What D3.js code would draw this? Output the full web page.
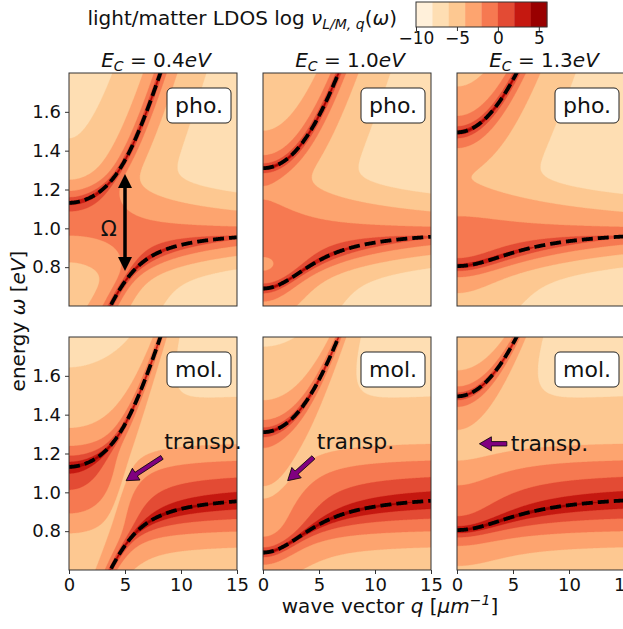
<!DOCTYPE html>
<html>
<head>
<meta charset="utf-8">
<script src="https://cdn.jsdelivr.net/npm/d3@7"></script>
<style>
  html, body { margin: 0; padding: 0; background: #fff; }
  svg { display: block; font-family: "DejaVu Sans", sans-serif; }
</style>
</head>
<body>
<svg id="fig" width="623" height="629"></svg>
<script>
// ---- model parameters ----------------------------------------------------
const cutoffEnergies = [0.4, 1.0, 1.3];        // cavity cut-off E_C per column (eV)
const rowKinds = ["pho.", "mol."];             // photonic / molecular LDOS rows
const moleculeEnergy = 1.0;                    // molecular excitation ω_M (eV)
const couplingG = 0.31;                        // light-matter coupling (eV), Ω = 2g
const photonVelocity = 0.2;                    // cavity dispersion slope (eV·µm)
const photonDamping = [0.0015];                // γ_C (eV)
const moleculeDamping = [0.02, 0.1, 0.0007];   // peak, gaussian width, floor of γ_M(ω)

// ---- axes, levels, annotations ------------------------------------------
const qDomain = [0, 15];
const omegaDomain = [0.6, 1.8];
const qTicks = [0, 5, 10, 15];
const omegaTicks = [0.8, 1.0, 1.2, 1.4, 1.6];
const contourLevels = [-10, -8, -6, -4, -2, 0, 2, 4, 6];
const colorbarTicks = [-10, -5, 0, 5];
const orRdStops = ["#fff7ec", "#fee8c8", "#fdd49e", "#fdbb84", "#fc8d59",
                   "#ef6548", "#d7301f", "#b30000", "#7f0000"];
// "transp." notes in the molecular row: text anchor, arrow tail, arrow tip (q, ω)
const transpText = [[8.5, 1.26], [4.8, 1.26], [4.8, 1.25]];
const transpTail = [[8.3, 1.18], [4.5, 1.18], [4.45, 1.25]];
const transpTip  = [[5.1, 1.06], [2.2, 1.06], [2.0, 1.25]];
// Rabi splitting arrow in the first photonic panel
const rabiArrowQ = 5.0, rabiArrowEnds = [0.78, 1.28], rabiLabelAt = [3.55, 1.0];

// ---- layout ---------------------------------------------------------------
const panelX = [69, 263, 457], panelW = 168;
const panelY = [73, 337], panelH = 233;

const svg = d3.select("#fig");
const levelColor = d3.scaleLinear()
  .domain(d3.range(orRdStops.length).map(i => i / (orRdStops.length - 1)))
  .range(orRdStops).interpolate(d3.interpolateRgb);
const nBands = contourLevels.length - 1;
const bandColors = d3.range(nBands).map(k => levelColor((k + 0.5) / nBands));

function cavityEnergy(Ec, q) { return Math.sqrt(Ec * Ec + (photonVelocity * q) ** 2); }
function moleculeWidth(w) {
  const d = w - moleculeEnergy;
  return moleculeDamping[0] * Math.exp(-d * d / (2 * moleculeDamping[1] ** 2)) + moleculeDamping[2];
}
// log LDOS from the 2x2 retarded Green's function of cavity mode + molecules
function logLdos(kind, Ec, q, w) {
  const ar = w - cavityEnergy(Ec, q), ai = photonDamping[0];
  const br = w - moleculeEnergy, bi = moleculeWidth(w);
  const Dr = ar * br - ai * bi - couplingG * couplingG, Di = ar * bi + ai * br;
  const nr = kind === 0 ? br : ar, ni = kind === 0 ? bi : ai;
  const im = (ni * Dr - nr * Di) / (Dr * Dr + Di * Di);
  return Math.log(Math.max(-im, 1e-12));
}
function polariton(Ec, q, sign) {
  const wc = cavityEnergy(Ec, q);
  const m = (wc + moleculeEnergy) / 2, h = (wc - moleculeEnergy) / 2;
  return m + sign * Math.sqrt(h * h + couplingG * couplingG);
}

const nx = 240, ny = 640;
const contourGen = d3.contours().size([nx, ny]).thresholds(contourLevels.slice(0, -1));
const qSamples = d3.range(0, 15.0001, 0.05);

const defs = svg.append("defs");

rowKinds.forEach((kindLabel, r) => {
  cutoffEnergies.forEach((Ec, c) => {
    const x0 = panelX[c], y0 = panelY[r];
    const xs = d3.scaleLinear().domain(qDomain).range([x0, x0 + panelW]);
    const ys = d3.scaleLinear().domain(omegaDomain).range([y0 + panelH, y0]);
    const clipId = `clip-${r}-${c}`;
    defs.append("clipPath").attr("id", clipId)
      .append("rect").attr("x", x0).attr("y", y0).attr("width", panelW).attr("height", panelH);
    const g = svg.append("g");
    const plot = g.append("g").attr("clip-path", `url(#${clipId})`);

    // sampled field
    const vals = new Float64Array(nx * ny);
    for (let j = 0; j < ny; j++) {
      const w = ys.invert(y0 + (j + 0.5) / ny * panelH);
      for (let i = 0; i < nx; i++) {
        const q = xs.invert(x0 + (i + 0.5) / nx * panelW);
        vals[j * nx + i] = Math.max(-9.999, Math.min(5.999, logLdos(r, Ec, q, w)));
      }
    }
    const proj = d3.geoTransform({
      point(x, y) { this.stream.point(x0 + x * panelW / nx, y0 + y * panelH / ny); }
    });
    const path = d3.geoPath(proj);
    plot.selectAll("path.band").data(contourGen(vals)).join("path")
      .attr("class", "band")
      .attr("d", path)
      .attr("fill", (d, k) => bandColors[k])
      .attr("stroke", (d, k) => bandColors[k]).attr("stroke-width", 0.3);

    // polariton branches
    const line = d3.line().x(d => xs(d[0])).y(d => ys(d[1]));
    [1, -1].forEach(sign => {
      plot.append("path")
        .attr("d", line(qSamples.map(q => [q, polariton(Ec, q, sign)])))
        .attr("fill", "none").attr("stroke", "#000")
        .attr("stroke-width", 3.8).attr("stroke-dasharray", "11 5");
    });

    // axes on the outer panels only
    const styleAxis = a => {
      a.select(".domain").remove();
      a.selectAll("line").attr("stroke", "#333");
      a.selectAll("text").attr("font-size", 18).attr("fill", "#111")
        .attr("font-family", "DejaVu Sans");
    };
    if (c === 0) {
      g.append("g").attr("transform", `translate(${x0},0)`)
        .call(d3.axisLeft(ys).tickValues(omegaTicks).tickSize(4).tickPadding(4)
          .tickFormat(d3.format(".1f")))
        .call(styleAxis);
    }
    if (r === 1) {
      g.append("g").attr("transform", `translate(0,${y0 + panelH})`)
        .call(d3.axisBottom(xs).tickValues(qTicks).tickSize(4).tickPadding(4)
          .tickFormat(d3.format("d")))
        .call(styleAxis);
    }
    g.append("rect").attr("x", x0).attr("y", y0).attr("width", panelW).attr("height", panelH)
      .attr("fill", "none").attr("stroke", "#333").attr("stroke-width", 1);

    // column title
    if (r === 0) {
      const t = svg.append("text").attr("x", x0 + panelW / 2 + 3).attr("y", 67)
        .attr("text-anchor", "middle").attr("font-size", 20).attr("fill", "#111");
      t.append("tspan").attr("font-style", "italic").text("E");
      t.append("tspan").attr("font-style", "italic").attr("font-size", 14).attr("dy", 4).text("C");
      t.append("tspan").attr("dy", -4).text(" = " + Ec.toFixed(1));
      t.append("tspan").attr("font-style", "italic").text("eV");
    }

    // row tag box
    const tag = svg.append("text").attr("x", x0 + panelW - 38).attr("y", y0 + 40)
      .attr("text-anchor", "middle").attr("font-size", 22).attr("fill", "#111").text(kindLabel);
    const bb = tag.node().getBBox();
    svg.insert("rect", () => tag.node())
      .attr("x", x0 + panelW - 6 - 64).attr("y", y0 + 15).attr("width", 64).attr("height", 35)
      .attr("rx", 5).attr("fill", "#fff").attr("stroke", "#222").attr("stroke-width", 1);
    tag.attr("x", x0 + panelW - 6 - 32).attr("y", y0 + 15 + 17.5 + (bb.height / 2 - (bb.y + bb.height - (y0 + 40))) );

    // annotations
    if (r === 0 && c === 0) {
      const ax = xs(rabiArrowQ), ya = ys(rabiArrowEnds[0]), yb = ys(rabiArrowEnds[1]);
      const hl = 14, hw = 7;
      svg.append("line").attr("x1", ax).attr("x2", ax).attr("y1", yb + hl - 1).attr("y2", ya - hl + 1)
        .attr("stroke", "#000").attr("stroke-width", 3.5);
      svg.append("path").attr("d", `M${ax},${yb} L${ax - hw},${yb + hl} L${ax + hw},${yb + hl} Z`).attr("fill", "#000");
      svg.append("path").attr("d", `M${ax},${ya} L${ax - hw},${ya - hl} L${ax + hw},${ya - hl} Z`).attr("fill", "#000");
      svg.append("text").attr("x", xs(rabiLabelAt[0])).attr("y", ys(rabiLabelAt[1]) + 7.5)
        .attr("text-anchor", "middle").attr("font-size", 21).attr("fill", "#111").text("Ω");
    }
    if (r === 1) {
      svg.append("text").attr("x", xs(transpText[c][0])).attr("y", ys(transpText[c][1]) + 7)
        .attr("font-size", 22).attr("fill", "#111").text("transp.");
      const [tx, ty] = [xs(transpTail[c][0]), ys(transpTail[c][1])];
      const [hx, hy] = [xs(transpTip[c][0]), ys(transpTip[c][1])];
      const dx = hx - tx, dy = hy - ty, L = Math.hypot(dx, dy);
      const ux = dx / L, uy = dy / L, nxv = -uy, nyv = ux;
      const sw = 2.2, hw = 7, hl = 12, bx = hx - ux * hl, by = hy - uy * hl;
      const pts = [
        [tx + nxv * sw, ty + nyv * sw], [bx + nxv * sw, by + nyv * sw], [bx + nxv * hw, by + nyv * hw],
        [hx, hy], [bx - nxv * hw, by - nyv * hw], [bx - nxv * sw, by - nyv * sw], [tx - nxv * sw, ty - nyv * sw]
      ];
      svg.append("path").attr("d", "M" + pts.map(p => p.join(",")).join("L") + "Z")
        .attr("fill", "#800080").attr("stroke", "#000").attr("stroke-width", 0.8);
    }
  });
});

// shared axis labels
const yl = svg.append("text").attr("transform", "translate(25,321) rotate(-90)")
  .attr("text-anchor", "middle").attr("font-size", 20).attr("fill", "#111");
yl.append("tspan").text("energy ");
yl.append("tspan").attr("font-style", "italic").text("ω");
yl.append("tspan").text(" [");
yl.append("tspan").attr("font-style", "italic").text("eV");
yl.append("tspan").text("]");

const xl = svg.append("text").attr("x", 390).attr("y", 613)
  .attr("text-anchor", "middle").attr("font-size", 20).attr("fill", "#111");
xl.append("tspan").text("wave vector ");
xl.append("tspan").attr("font-style", "italic").text("q");
xl.append("tspan").text(" [");
xl.append("tspan").attr("font-style", "italic").text("μm");
xl.append("tspan").attr("font-style", "italic").attr("font-size", 14).attr("dy", -8).text("−1");
xl.append("tspan").attr("dy", 8).text("]");

// colour bar
const cbX = d3.scaleLinear().domain([contourLevels[0], contourLevels[nBands]]).range([416, 547]);
const cb = svg.append("g");
cb.selectAll("rect.cb").data(d3.range(nBands)).join("rect").attr("class", "cb")
  .attr("x", k => cbX(contourLevels[k])).attr("y", 2)
  .attr("width", k => cbX(contourLevels[k + 1]) - cbX(contourLevels[k]) + 0.3).attr("height", 25)
  .attr("fill", k => bandColors[k]);
cb.append("rect").attr("x", 416).attr("y", 2).attr("width", 131).attr("height", 25)
  .attr("fill", "none").attr("stroke", "#333").attr("stroke-width", 1);
const cbAxis = cb.append("g").attr("transform", "translate(0,27)")
  .call(d3.axisBottom(cbX).tickValues(colorbarTicks).tickSize(4).tickPadding(1)
    .tickFormat(d => d < 0 ? "−" + Math.abs(d) : String(d)));
cbAxis.select(".domain").remove();
cbAxis.selectAll("line").attr("stroke", "#333");
cbAxis.selectAll("text").attr("font-size", 17).attr("fill", "#111").attr("font-family", "DejaVu Sans");

const cl = svg.append("text").attr("x", 397).attr("y", 25).attr("text-anchor", "end")
  .attr("font-size", 20).attr("fill", "#111");
cl.append("tspan").text("light/matter LDOS log ");
cl.append("tspan").attr("font-style", "italic").text("ν");
cl.append("tspan").attr("font-style", "italic").attr("font-size", 14).attr("dy", 4).text("L/M, q");
cl.append("tspan").attr("dy", -4).text("(");
cl.append("tspan").attr("font-style", "italic").text("ω");
cl.append("tspan").text(")");
</script>
</body>
</html>
